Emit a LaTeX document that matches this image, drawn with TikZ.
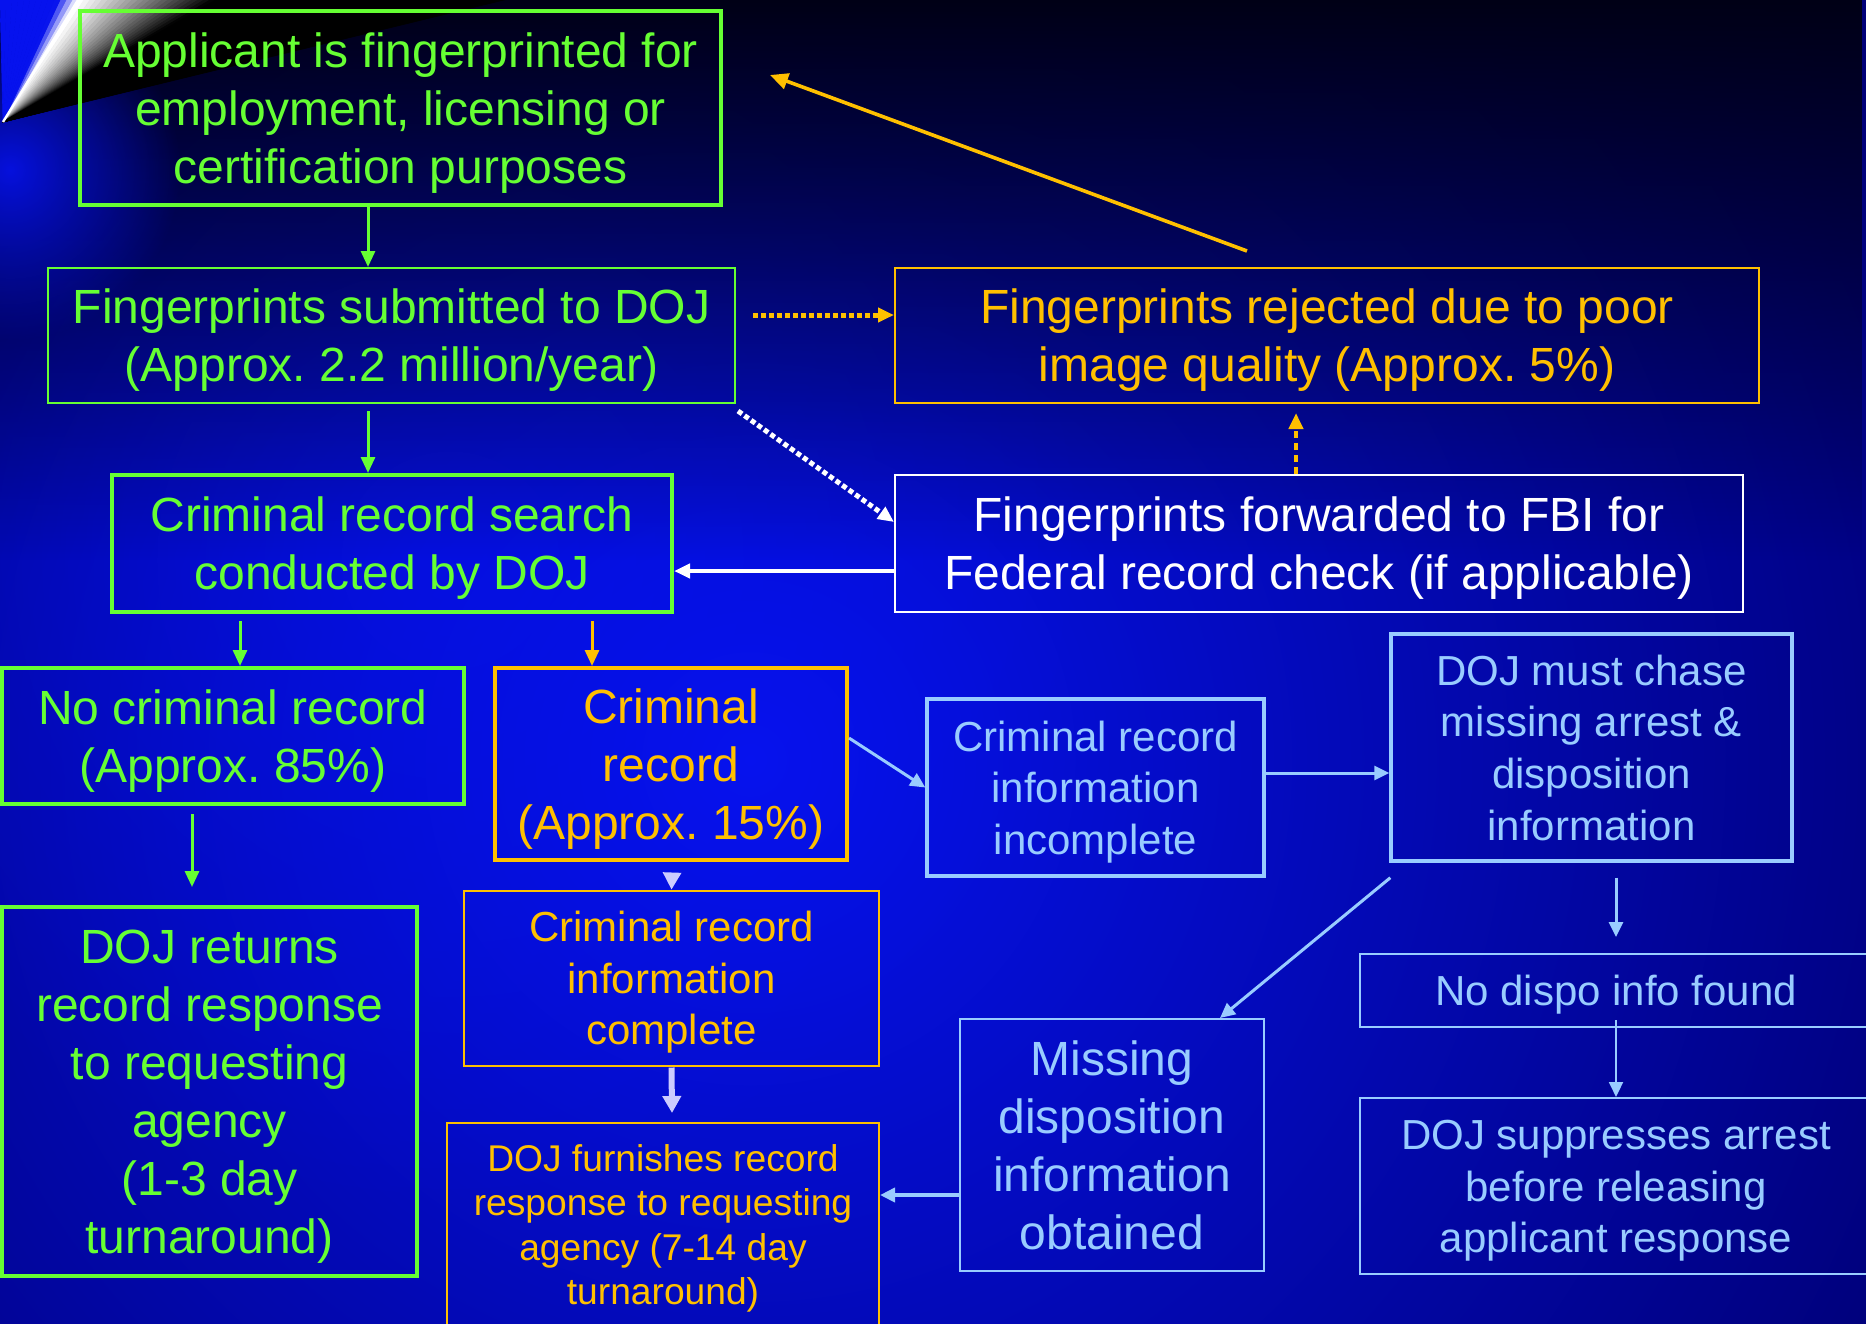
\documentclass[tikz,border=0pt]{standalone}
\usepackage{fontspec}
\setmainfont{Liberation Sans}
\frenchspacing
\usetikzlibrary{arrows.meta,fadings}
\definecolor{grn}{RGB}{102,255,51}
\definecolor{org}{RGB}{255,192,0}
\definecolor{lblue}{RGB}{153,204,255}
\definecolor{lav}{RGB}{204,204,255}
\definecolor{bgbase}{RGB}{0,0,120}
\definecolor{bgglow}{RGB}{6,18,238}
\definecolor{bgtop}{RGB}{0,0,22}
\tikzfading[name=fadetop, top color=transparent!0, bottom color=transparent!100]
\tikzfading[name=radfade, inner color=transparent!0, outer color=transparent!100]
\newcommand\tb{\rule{0pt}{1em}}
\newcommand\te{\rule[-0.28em]{0pt}{0.28em}}
\begin{document}
\begin{tikzpicture}[x=0.5pt,y=-0.5pt,
  box/.style={draw, rectangle, inner sep=0pt, align=center},
  sz/.style 2 args={minimum width=#1*0.5pt, minimum height=#2*0.5pt},
  thickb/.style={line width=2pt},
  medb/.style={line width=1.7pt},
  thinb/.style={line width=1pt},
  big/.style={font=\fontsize{24}{29}\selectfont},
  mid/.style={font=\fontsize{21}{25.8}\selectfont},
  sml/.style={font=\fontsize{18.6}{22.3}\selectfont},
  tip/.style={-{Triangle[length=8pt,width=7pt]}},
  tipsm/.style={-{Triangle[length=7.5pt,width=7pt]}},
]
\useasboundingbox (0,0) rectangle (1866,1323);
\clip (0,0) rectangle (1866,1323);
% ---------- background ----------
\fill[bgbase] (0,0) rectangle (1866,1323);
\shade[inner color=bgglow, outer color=bgbase] (750,760) circle (1300);
\fill[bgglow, opacity=0.6, path fading=radfade] (450,560) circle (650);
\fill[bgtop, path fading=fadetop] (0,0) rectangle (1866,560);
\fill[bgglow, opacity=0.9, path fading=radfade] (10,170) circle (170);
% top-left flare
\foreach \i in {0,...,12}{
  \pgfmathsetmacro\xa{78-\i*6}
  \pgfmathsetmacro\xb{78-(\i+1)*6}
  \pgfmathsetmacro\p{max(0,85-\i*28)}
  \filldraw[white!\p!bgglow, line width=0.3pt] (3,122) -- (\xa,0) -- (\xb,0) -- cycle;
}
\foreach \i in {0,...,70}{
  \pgfmathsetmacro\xa{78+\i*6}
  \pgfmathsetmacro\xb{78+(\i+1)*6}
  \pgfmathsetmacro\p{max(0,100-\i*4.5)}
  \filldraw[white!\p!black, line width=0.3pt] (3,122) -- (\xa,0) -- (\xb,0) -- cycle;
}
\draw[white, line width=1.2pt] (3,122) -- (78,0);
% ---------- nodes ----------
\node[box, grn, thickb, big, sz={641}{194}] (app) at (400.5,108)
  {\tb Applicant is fingerprinted for\\employment, licensing or\\certification purposes\te};
\node[box, grn, thinb, big, sz={687}{135}] (sub) at (391.5,335.5)
  {\tb Fingerprints submitted to DOJ\\(Approx. 2.2 million/year)\te};
\node[box, grn, thickb, big, sz={560}{137}] (search) at (392,543.5)
  {\tb Criminal record search\\conducted by DOJ\te};
\node[box, org, thinb, big, sz={864}{135}] (rej) at (1327,335.5)
  {\tb Fingerprints rejected due to poor\\image quality (Approx. 5\%)\te};
\node[box, white, thinb, big, sz={848}{137}] (fbi) at (1319,543.5)
  {\tb Fingerprints forwarded to FBI for\\Federal record check (if applicable)\te};
\node[box, grn, thickb, big, sz={462}{136}] (nocr) at (233,736)
  {\tb No criminal record\\(Approx. 85\%)\te};
\node[box, org, thickb, big, sz={352}{192}] (cr) at (671,764)
  {\tb Criminal\\record\\(Approx. 15\%)\te};
\node[box, grn, thickb, big, sz={415}{369}] (ret) at (209.5,1091.5)
  {\tb DOJ returns\\record response\\to requesting\\agency\\(1-3 day\\turnaround)\te};
\node[box, org, thinb, mid, sz={415}{175}] (comp) at (671.5,978)
  {\tb Criminal record\\information\\complete\te};
\node[box, org, thinb, sml, sz={432}{203}] (furn) at (663,1224.5)
  {\tb DOJ furnishes record\\response to requesting\\agency (7-14 day\\turnaround)\te};
\node[box, lblue, medb, mid, sz={337}{177}] (inc) at (1095.5,787.5)
  {\tb Criminal record\\information\\incomplete\te};
\node[box, lblue, medb, mid, sz={401}{227}] (chase) at (1591.5,747.5)
  {\tb DOJ must chase\\missing arrest \&\\disposition\\information\te};
\node[box, lblue, thinb, mid, sz={512}{73}] (nodispo) at (1616,990.5)
  {\tb No dispo info found\te};
\node[box, lblue, thinb, mid, sz={512}{176}] (supp) at (1616,1186)
  {\tb DOJ suppresses arrest\\before releasing\\applicant response\te};
\node[box, lblue, thinb, big, sz={304}{252}] (miss) at (1112,1145)
  {\tb Missing\\disposition\\information\\obtained\te};
\coordinate (loopstart) at (1247,251);
\coordinate (loopend) at (770,75);
% ---------- connectors ----------
\draw[grn, line width=1.5pt, tip] ([xshift=-16.25pt]app.south) -- ([xshift=-11.75pt]sub.north);
\draw[grn, line width=1.5pt, tip] ([xshift=-11.75pt,yshift=-3.5pt]sub.south) -- ([xshift=-12pt]search.north);
\draw[grn, line width=1.5pt, tip] ([xshift=-76pt,yshift=-3.5pt]search.south) -- ([xshift=3.5pt]nocr.north);
\draw[org, line width=1.5pt, tip] ([xshift=100pt,yshift=-3.5pt]search.south) -- ([xshift=-39.5pt]cr.north);
\draw[grn, line width=1.5pt, tip] ([xshift=-20.5pt,yshift=-4pt]nocr.south) -- ([xshift=-8.75pt,yshift=9pt]ret.north);
\draw[lav, line width=1.5pt, -{Triangle[length=8.5pt,width=9pt]}] ([xshift=0.5pt,yshift=-6.5pt]cr.south) -- ([yshift=0pt]comp.north);
\draw[lav, line width=3pt, -{Triangle[length=8.5pt,width=9pt]}] ([yshift=-0.5pt]comp.south) -- ([xshift=4.5pt,yshift=4.5pt]furn.north);
\draw[org, line width=2.5pt, dash pattern=on 2.5pt off 1.5pt, tip] ([xshift=8.5pt,yshift=10.25pt]sub.east) -- ([yshift=10.25pt]rej.west);
\draw[white, line width=2.5pt, dash pattern=on 2.5pt off 1.5pt, tip] ([xshift=1pt,yshift=-3.5pt]sub.south east) -- ([yshift=10.75pt]fbi.west);
\draw[org, line width=2.2pt, dash pattern=on 3.5pt off 2.5pt, tip] ([xshift=-11.5pt]fbi.north) -- ([xshift=-15.5pt,yshift=-4.5pt]rej.south);
\draw[white, line width=2pt, tip] ([yshift=-13.75pt]fbi.west) -- ([yshift=-13.75pt]search.east);
\draw[org, line width=1.8pt, -{Triangle[length=9pt,width=8pt]}] (loopstart) -- (loopend);
\draw[lblue, line width=1.5pt, tipsm] ([yshift=13pt]cr.east) -- (inc.west);
\draw[lblue, line width=1.5pt, tipsm] ([yshift=7.25pt]inc.east) -- ([yshift=-12.75pt]chase.west);
\draw[lblue, line width=1.5pt, tipsm] ([xshift=0.5pt,yshift=-7.5pt]chase.south west) -- ([xshift=-22.5pt]miss.north east);
\draw[lblue, line width=1.5pt, tipsm] ([xshift=12.25pt,yshift=-7.5pt]chase.south) -- ([yshift=8pt]nodispo.north);
\draw[lblue, line width=1pt, tipsm] ([yshift=4pt]nodispo.south) -- (supp.north);
\draw[lblue, line width=2pt, tipsm] ([yshift=-25pt]miss.west) -- ([yshift=14.75pt]furn.east);
\end{tikzpicture}
\end{document}
